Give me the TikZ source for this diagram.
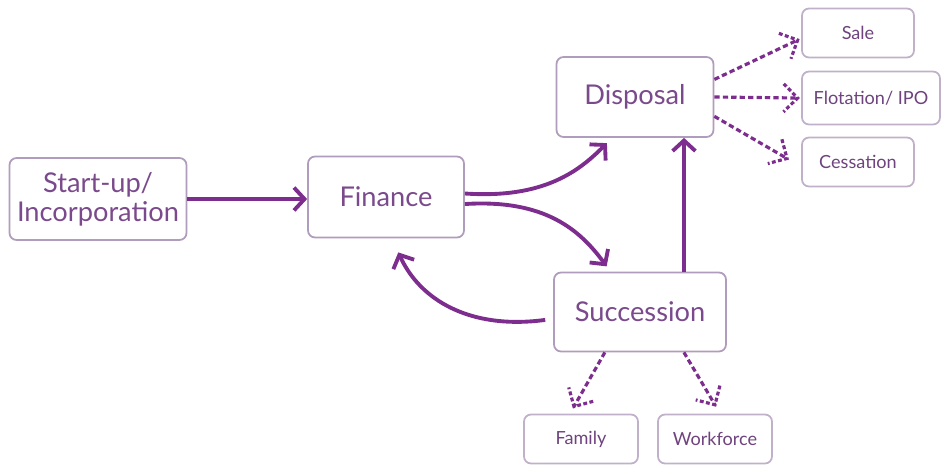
\documentclass[tikz,border=0pt]{standalone}
\usepackage{fontspec}
\setmainfont{Lato}
\usetikzlibrary{arrows.meta,decorations.markings}
\definecolor{boxline}{HTML}{B09CBC}
\definecolor{boxtext}{HTML}{7A4A8C}
\definecolor{flow}{HTML}{7D2D8E}
\tikzset{
  stage/.style={draw=boxline, line width=1pt, rounded corners=4pt, text=boxtext,
    font=\fontsize{15.5}{16.5}\selectfont, align=center, inner sep=0pt},
  outcome/.style={stage, draw=boxline!80, text=boxtext!90!black, font=\fontsize{10.3}{12}\selectfont,
    minimum width=2.24cm, minimum height=0.98cm},
  flowline/.style={draw=flow, line width=2.2pt, -{Straight Barb[length=6pt,width=13pt]}},
  optionline/.style={draw=flow, line width=1.8pt, dash pattern=on 3pt off 1.8pt,
    postaction={decorate}, decoration={markings, mark=at position 1 with
      {\draw[flow, line width=1.8pt, dash pattern=on 2.2pt off 1.4pt] (-8pt,8pt) -- (0,0) -- (-8pt,-8pt);}}}
}
\begin{document}
\begin{tikzpicture}[x=0.02cm,y=-0.02cm]
  \useasboundingbox (0,0) rectangle (944,464);
  % main stages
  \node[stage, minimum width=3.54cm, minimum height=1.64cm] (Start) at (98,199) {Start-up/\\Incorporation};
  \node[stage, minimum width=3.12cm, minimum height=1.62cm] (Finance) at (386,197) {Finance};
  \node[stage, minimum width=3.14cm, minimum height=1.6cm] (Disposal) at (635,97) {Disposal};
  \node[stage, minimum width=3.44cm, minimum height=1.58cm] (Succession) at (640,312) {Succession};
  % outcomes
  \node[outcome] (Sale) at (858,33) {Sale};
  \node[outcome, minimum width=2.76cm, minimum height=1.06cm] (Flotation) at (871,98) {Flotation/ IPO};
  \node[outcome] (Cessation) at (858,162) {Cessation};
  \node[outcome, minimum width=2.28cm] (Family) at (581,439) {Family};
  \node[outcome, minimum width=2.28cm] (Workforce) at (715,439) {Workforce};
  \coordinate (split) at ([yshift=-1pt]Finance.east);
  \coordinate (lift) at ([xshift=0.88cm]Succession.north);
  % solid arrows
  \draw[flowline] (Start.east) -- (Start.east -| Finance.west);
  \draw[flowline] ([yshift=3pt]split) .. controls (545,199) and (580,170) .. ([xshift=-16pt,yshift=-3pt]Disposal.south);
  \draw[flowline] ([yshift=-3pt]split) .. controls (545,199) and (580,230) .. ([xshift=-19pt,yshift=3pt]Succession.north);
  \draw[flowline] ([xshift=-4.5pt,yshift=-4.5pt]Succession.west) .. controls (470,330) and (420,300) .. ([xshift=7pt,yshift=-8pt]Finance.south);
  \draw[flowline] (lift) -- (lift |- Disposal.south);
  % dashed options
  \draw[optionline] ([yshift=10pt]Disposal.east) -- ([xshift=-2pt,yshift=-4pt]Sale.west);
  \draw[optionline] (Disposal.east) -- ([xshift=-2pt]Flotation.west);
  \draw[optionline] ([yshift=-11pt]Disposal.east) -- ([xshift=-8pt,yshift=2pt]Cessation.west);
  \draw[optionline] ([xshift=-20pt]Succession.south) -- ([xshift=-4pt,yshift=4pt]Family.north);
  \draw[optionline] ([xshift=25pt]Succession.south) -- ([yshift=5pt]Workforce.north);
\end{tikzpicture}
\end{document}
